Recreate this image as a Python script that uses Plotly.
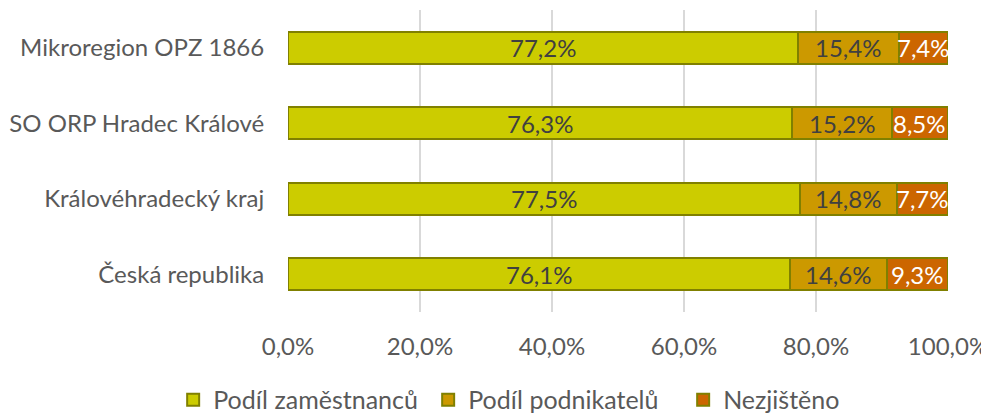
import plotly.graph_objects as go

categories = ["Mikroregion OPZ 1866", "SO ORP Hradec Králové", "Královéhradecký kraj", "Česká republika"]
zamestnanci = [77.2, 76.3, 77.5, 76.1]
podnikatele = [15.4, 15.2, 14.8, 14.6]
nezjisteno = [7.4, 8.5, 7.7, 9.3]
tick_vals = [0, 20, 40, 60, 80, 100]
tick_text = [f"{v:.1f}%".replace(".", ",") for v in tick_vals]

series = [
    ("Podíl zaměstnanců", zamestnanci, "#CCCC00", "#404040"),
    ("Podíl podnikatelů", podnikatele, "#CC9900", "#404040"),
    ("Nezjištěno", nezjisteno, "#CC6600", "#FFFFFF"),
]

FONT = "Lato"
fig = go.Figure()
annotations = []
base = [0.0] * len(categories)
for name, vals, col, tcol in series:
    fig.add_trace(go.Bar(
        y=categories, x=vals, name=name, orientation="h",
        marker=dict(color=col, line=dict(color="#808000", width=2)),
    ))
    for j, v in enumerate(vals):
        annotations.append(dict(
            x=base[j] + v / 2, y=categories[j], xref="x", yref="y",
            text=f"{v:.1f}%".replace(".", ","), showarrow=False,
            font=dict(family=FONT, size=24, color=tcol),
        ))
        base[j] += v

fig.update_layout(
    barmode="stack", bargap=0.58,
    width=981, height=407,
    margin=dict(l=280, r=41, t=2, b=103, autoexpand=False),
    paper_bgcolor="white", plot_bgcolor="white",
    font=dict(family=FONT, size=24, color="#595959"),
    showlegend=True,
    annotations=annotations,
    legend=dict(orientation="h", x=-0.174, xanchor="left", y=-0.291, yanchor="middle",
                font=dict(family=FONT, size=25, color="#595959"),
                traceorder="normal", itemwidth=30, entrywidth=210, entrywidthmode="pixels"),
    xaxis=dict(range=[0, 100], tickmode="array", tickvals=tick_vals, ticktext=tick_text,
               showgrid=True, gridcolor="#D9D9D9", gridwidth=1.5, zeroline=False,
               showline=False, ticks="outside", ticklen=13, tickcolor="rgba(0,0,0,0)",
               tickfont=dict(size=24, color="#595959"), automargin=False),
    yaxis=dict(autorange="reversed", showline=False, ticks="outside", ticklen=18,
               tickcolor="rgba(0,0,0,0)", tickfont=dict(size=24, color="#595959"),
               automargin=False),
)

fig.write_html("out.html")
